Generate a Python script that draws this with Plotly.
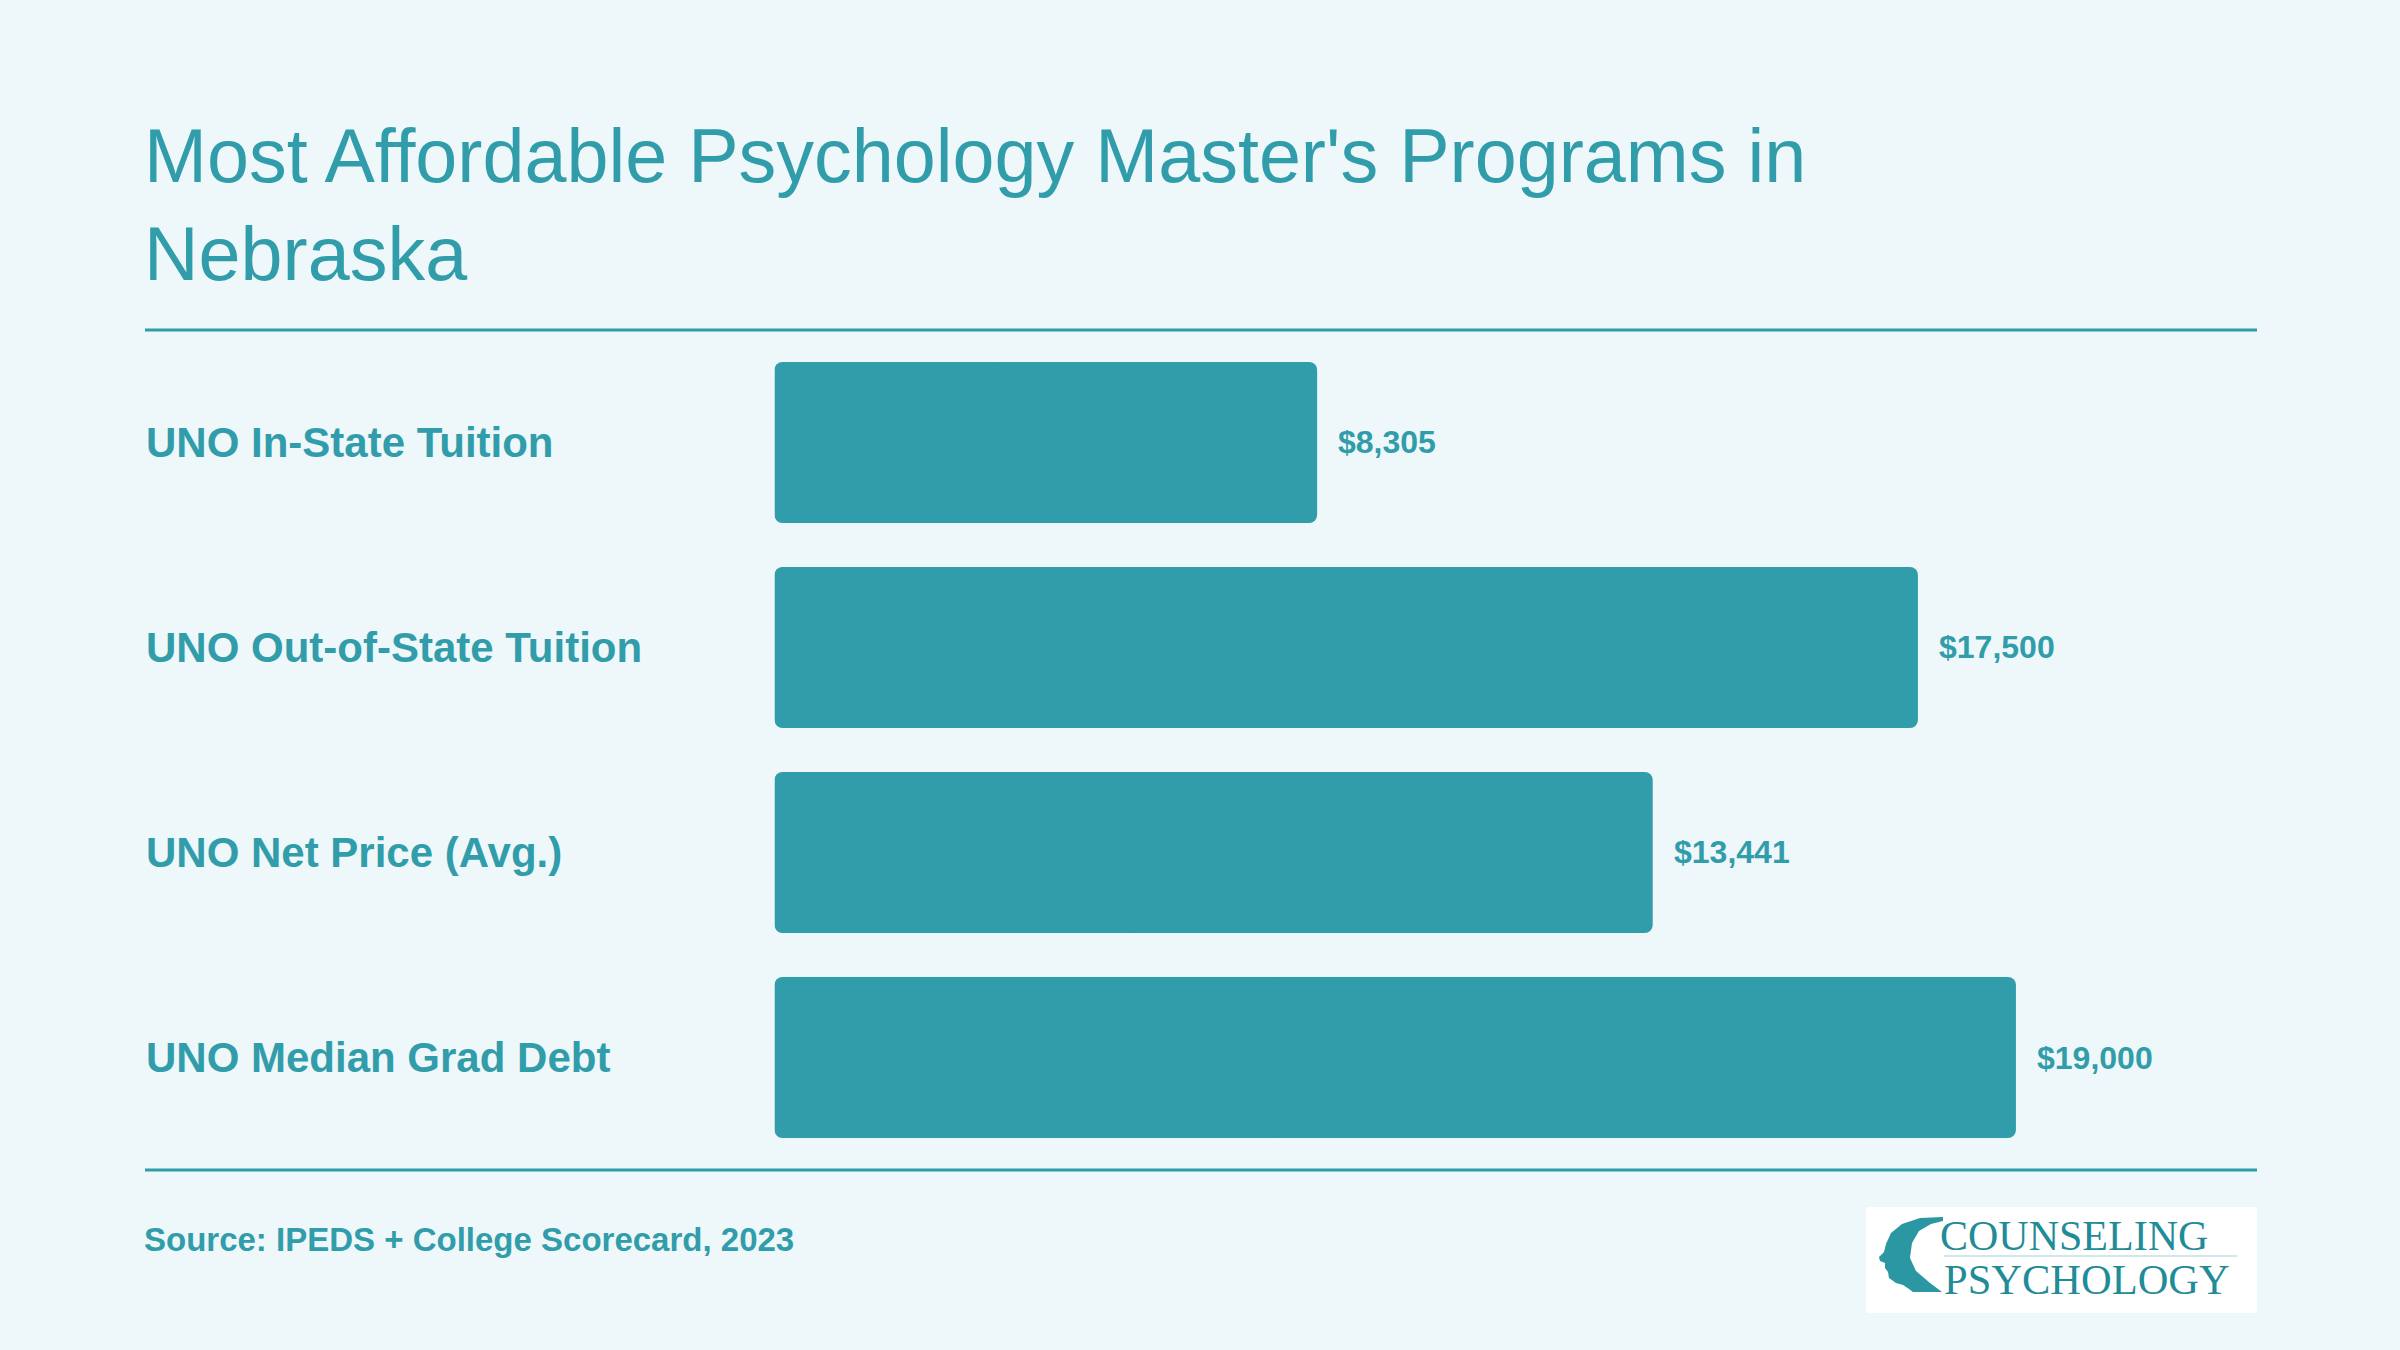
import plotly.graph_objects as go

# ---- data ----
categories = ["UNO In-State Tuition", "UNO Out-of-State Tuition", "UNO Net Price (Avg.)", "UNO Median Grad Debt"]
values = [8305, 17500, 13441, 19000]
value_labels = ["$8,305", "$17,500", "$13,441", "$19,000"]
title_text = "Most Affordable Psychology Master's Programs in<br>Nebraska"
source_text = "Source: IPEDS + College Scorecard, 2023"

W, H = 2400, 1350
TEAL = "#319DAA"
BG = "#EEF7F9"
FONT = "Liberation Sans, Arial, Helvetica, sans-serif"

def px(x):
    return x / W

def py(y):
    return 1 - y / H

fig = go.Figure()
# each bar drawn as two overlapping halves so that both ends get rounded corners
left_part = [0.6 * v for v in values]
right_part = [0.6 * v for v in values]
fig.add_trace(go.Bar(
    x=[-a for a in left_part], base=left_part, y=categories, orientation="h",
    marker=dict(color=TEAL, cornerradius=8, line=dict(width=0)),
    hoverinfo="skip", showlegend=False,
))
fig.add_trace(go.Bar(
    x=right_part, base=[v - b for v, b in zip(values, right_part)], y=categories, orientation="h",
    marker=dict(color=TEAL, cornerradius=8, line=dict(width=0)),
    hoverinfo="skip", showlegend=False,
))

annotations = []
# category labels (left aligned)
for c in categories:
    annotations.append(dict(
        x=px(144), xref="paper", xanchor="left", y=c, yref="y", yanchor="middle",
        text="<b>%s</b>" % c, showarrow=False,
        font=dict(family=FONT, size=42, color=TEAL),
    ))
# value labels
for c, v, lab in zip(categories, values, value_labels):
    annotations.append(dict(
        x=v, xref="x", xanchor="left", xshift=19, y=c, yref="y", yanchor="middle",
        text="<b>%s</b>" % lab, showarrow=False,
        font=dict(family=FONT, size=32, color=TEAL),
    ))
# title
annotations.append(dict(
    x=px(142), xref="paper", xanchor="left", y=py(112), yref="paper", yanchor="top",
    text=title_text, showarrow=False, align="left",
    font=dict(family=FONT, size=75.5, color=TEAL),
))
# source
annotations.append(dict(
    x=px(142), xref="paper", xanchor="left", y=py(1239), yref="paper", yanchor="middle",
    text="<b>%s</b>" % source_text, showarrow=False,
    font=dict(family=FONT, size=33, color=TEAL),
))
# logo text
SERIF = "Liberation Serif, Times New Roman, serif"
annotations.append(dict(
    x=px(1938), xref="paper", xanchor="left", y=py(1236), yref="paper", yanchor="middle",
    text="COUNSELING", showarrow=False,
    font=dict(family=SERIF, size=42, color="#1F8C98"),
))
annotations.append(dict(
    x=px(1942), xref="paper", xanchor="left", y=py(1279), yref="paper", yanchor="middle",
    text="PSYCHOLOGY", showarrow=False,
    font=dict(family=SERIF, size=42.5, color="#1F8C98"),
))

shapes = [
    dict(type="line", xref="paper", yref="paper", x0=px(145), x1=px(2257), y0=py(330), y1=py(330),
         line=dict(color=TEAL, width=3)),
    dict(type="line", xref="paper", yref="paper", x0=px(145), x1=px(2257), y0=py(1170), y1=py(1170),
         line=dict(color=TEAL, width=3)),
    # logo box
    dict(type="rect", xref="paper", yref="paper", x0=px(1866), x1=px(2257), y0=py(1313), y1=py(1207),
         fillcolor="white", line=dict(width=0), layer="below"),
    dict(type="line", xref="paper", yref="paper", x0=px(1944), x1=px(2237), y0=py(1256), y1=py(1256),
         line=dict(color="#BFE0E4", width=1.5)),
]

# head silhouette (decorative logo path in pixel space converted to paper)
head_px = [(1943, 1217), (1920, 1218), (1902, 1224), (1891, 1233), (1886, 1244), (1884, 1252),
           (1879, 1257), (1880, 1261), (1885, 1263), (1885, 1268), (1888, 1272), (1889, 1278),
           (1896, 1283), (1903, 1285), (1909, 1289), (1913, 1292), (1942, 1292), (1930, 1283),
           (1916, 1271), (1910, 1258), (1912, 1243), (1919, 1231), (1931, 1224), (1943, 1221)]
path = "M " + " L ".join("%.5f,%.5f" % (px(x), py(y)) for x, y in head_px) + " Z"
shapes.append(dict(type="path", xref="paper", yref="paper", path=path,
                   fillcolor="#2A97A3", line=dict(width=0)))

fig.update_layout(
    width=W, height=H, autosize=False,
    margin=dict(l=0, r=0, t=0, b=0, pad=0),
    paper_bgcolor=BG, plot_bgcolor=BG,
    barmode="overlay",
    bargap=44 / 205,
    xaxis=dict(domain=[px(774.5), px(2256)], range=[0, 22674], visible=False, fixedrange=True),
    yaxis=dict(domain=[py(1160), py(340)], autorange="reversed", visible=False,
               categoryorder="array", categoryarray=categories, fixedrange=True),
    annotations=annotations, shapes=shapes,
    showlegend=False,
)

fig.write_html("out.html", config={"displayModeBar": False})
